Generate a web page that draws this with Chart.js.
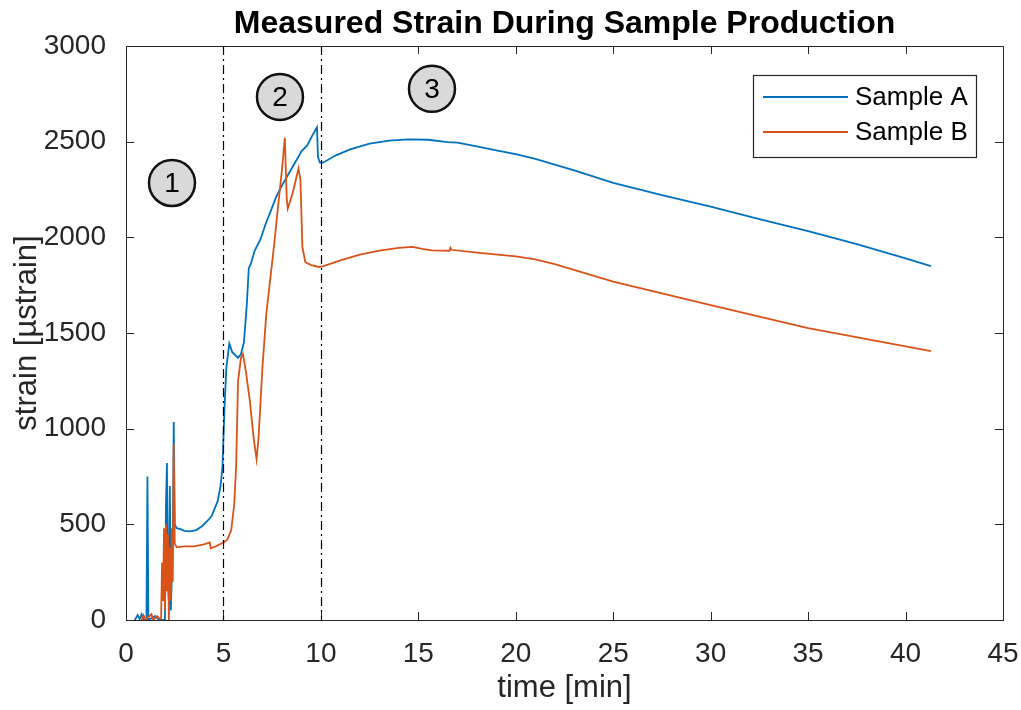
<!DOCTYPE html>
<html>
<head>
<meta charset="utf-8">
<script src="https://cdn.jsdelivr.net/npm/chart.js@4/dist/chart.umd.min.js"></script>
<style>
  html, body { margin: 0; padding: 0; background: #fff; }
  #wrap { width: 1021px; height: 710px; }
</style>
</head>
<body>
<div id="wrap"><canvas id="strainChart" width="1021" height="710"></canvas></div>
<script>
const titleText = "Measured Strain During Sample Production";
const seriesNames = ["Sample A", "Sample B"];
const xTicks = [0, 5, 10, 15, 20, 25, 30, 35, 40, 45];
const yTicks = [0, 500, 1000, 1500, 2000, 2500, 3000];
const phaseLines = [5, 10];
const phaseLabels = ["1", "2", "3"];
const phaseX = [2.36, 7.9, 15.7];
const phaseY = [2284, 2734, 2776];

const timeA = [0.45, 0.6, 0.7, 0.8, 0.9, 1.05, 1.1, 1.15, 1.5, 1.7, 2.0, 2.05, 2.1, 2.15, 2.2, 2.25, 2.3, 2.4, 2.45, 2.5,
  2.6, 2.8, 3.0, 3.3, 3.6, 3.9, 4.2, 4.4, 4.5, 4.7, 4.85, 4.95, 5.05, 5.15, 5.3, 5.45, 5.6, 5.75, 5.9, 6.05,
  6.2, 6.3, 6.4, 6.6, 6.9, 7.2, 7.4, 7.7, 8.0, 8.5, 8.9, 9.0, 9.3, 9.55, 9.8, 9.85, 9.95, 10.1, 10.8, 11.5,
  12.5, 13.5, 14.5, 15.5, 16.5, 17.0, 18.0, 19.0, 20.0, 21.0, 22.0, 23.0, 25.0, 27.5, 30.0, 32.5, 35.0, 37.5, 40.0, 41.3];
const strainA = [0, 25, 5, 30, 0, 0, 750, 0, 20, 0, 0, 600, 820, 200, 100, 700, 50, 400, 1035, 500,
  480, 475, 466, 463, 470, 490, 520, 545, 570, 620, 700, 800, 1100, 1320, 1445, 1400, 1385, 1370, 1390, 1450,
  1650, 1840, 1860, 1930, 1990, 2080, 2130, 2210, 2270, 2360, 2430, 2450, 2480, 2530, 2575, 2420, 2390, 2390, 2430, 2460,
  2490, 2505, 2512, 2510, 2498, 2495, 2475, 2455, 2435, 2410, 2380, 2350, 2285, 2220, 2160, 2095, 2032, 1965, 1890, 1850];

const timeB = [0.8, 0.9, 1.0, 1.3, 1.4, 1.6, 1.8, 1.85, 1.9, 1.95, 2.0, 2.05, 2.1, 2.15, 2.2, 2.25, 2.3, 2.35, 2.4, 2.45,
  2.5, 2.6, 3.0, 3.5, 4.0, 4.3, 4.35, 4.6, 4.9, 5.0, 5.2, 5.4, 5.55, 5.65, 5.75, 5.9, 6.0, 6.15, 6.35, 6.55,
  6.7, 6.8, 7.0, 7.2, 7.4, 7.6, 7.8, 8.0, 8.15, 8.25, 8.3, 8.55, 8.85, 8.95, 9.05, 9.2, 9.5, 9.9, 10.1, 11.0,
  12.0, 13.0, 14.0, 14.7, 15.2, 15.7, 16.6, 16.65, 16.7, 18.0, 20.0, 21.0, 22.0, 25.0, 30.0, 35.0, 40.0, 41.3];
const strainB = [0, 25, 0, 30, 0, 20, 0, 300, 100, 480, 50, 500, 150, 450, 0, 380, 100, 480, 200, 920,
  400, 380, 385, 385, 395, 405, 375, 385, 400, 405, 420, 470, 600, 800, 1250, 1370, 1390, 1300, 1150, 950,
  840, 950, 1320, 1600, 1780, 1960, 2160, 2350, 2520, 2200, 2150, 2230, 2360, 2300, 1950, 1870, 1855, 1845, 1848, 1880,
  1910, 1930, 1945, 1950, 1940, 1932, 1930, 1945, 1935, 1920, 1900, 1885, 1860, 1768, 1646, 1525, 1430, 1405];

const colors = ["#0072BD", "#D95319"];
const axisColor = "#262626";
const fontFamily = "'Liberation Sans', Arial, Helvetica, sans-serif";

function toPoints(xs, ys) {
  return xs.map((x, i) => ({ x: x, y: ys[i] }));
}

const matlabFrame = {
  id: "matlabFrame",
  afterDraw(chart) {
    const ctx = chart.ctx;
    const a = chart.chartArea;
    const xs = chart.scales.x, ys = chart.scales.y;
    ctx.save();

    // box + inward ticks on all sides
    ctx.strokeStyle = axisColor;
    ctx.lineWidth = 1;
    ctx.strokeRect(a.left + 0.5, a.top + 0.5, a.right - a.left, a.bottom - a.top);
    const tl = 8;
    ctx.beginPath();
    xTicks.forEach(t => {
      const px = Math.round(xs.getPixelForValue(t)) + 0.5;
      ctx.moveTo(px, a.bottom); ctx.lineTo(px, a.bottom - tl);
      ctx.moveTo(px, a.top); ctx.lineTo(px, a.top + tl);
    });
    yTicks.forEach(t => {
      const py = Math.round(ys.getPixelForValue(t)) + 0.5;
      ctx.moveTo(a.left, py); ctx.lineTo(a.left + tl, py);
      ctx.moveTo(a.right, py); ctx.lineTo(a.right - tl, py);
    });
    ctx.stroke();

    // dash-dot phase boundaries
    ctx.strokeStyle = "#000";
    ctx.lineWidth = 1.2;
    ctx.setLineDash([9, 4, 2, 4]);
    phaseLines.forEach(t => {
      const px = Math.round(xs.getPixelForValue(t)) + 0.5;
      ctx.beginPath();
      ctx.moveTo(px, a.top); ctx.lineTo(px, a.bottom);
      ctx.stroke();
    });
    ctx.setLineDash([]);

    // circled phase numbers
    phaseLabels.forEach((lab, i) => {
      const cx = xs.getPixelForValue(phaseX[i]);
      const cy = ys.getPixelForValue(phaseY[i]);
      ctx.beginPath();
      ctx.arc(cx, cy, 23, 0, Math.PI * 2);
      ctx.fillStyle = "#d9d9d9";
      ctx.fill();
      ctx.lineWidth = 2.5;
      ctx.strokeStyle = "#111";
      ctx.stroke();
      ctx.fillStyle = "#000";
      ctx.font = "28px " + fontFamily;
      ctx.textAlign = "center";
      ctx.textBaseline = "middle";
      ctx.fillText(lab, cx, cy + 1);
    });

    // legend box
    const lx = 753, ly = 75, lw = 223, lh = 82;
    ctx.fillStyle = "#fff";
    ctx.fillRect(lx, ly, lw, lh);
    ctx.strokeStyle = axisColor;
    ctx.lineWidth = 1.2;
    ctx.strokeRect(lx + 0.5, ly + 0.5, lw, lh);
    chart.data.datasets.forEach((ds, i) => {
      const yy = ly + 22 + i * 35;
      ctx.strokeStyle = ds.borderColor;
      ctx.lineWidth = ds.borderWidth;
      ctx.beginPath();
      ctx.moveTo(lx + 10, yy); ctx.lineTo(lx + 95, yy);
      ctx.stroke();
      ctx.fillStyle = "#000";
      ctx.font = "26px " + fontFamily;
      ctx.textAlign = "left";
      ctx.textBaseline = "middle";
      ctx.fillText(ds.label, lx + 102, yy + 1);
    });

    // title centred on the plot area
    ctx.fillStyle = "#000";
    ctx.font = "bold 32px " + fontFamily;
    ctx.textAlign = "center";
    ctx.textBaseline = "middle";
    ctx.fillText(titleText, (a.left + a.right) / 2, 24);
    ctx.restore();
  }
};

new Chart(document.getElementById("strainChart"), {
  type: "line",
  data: {
    datasets: [
      { label: seriesNames[0], data: toPoints(timeA, strainA), borderColor: colors[0], borderWidth: 1.8, pointRadius: 0, tension: 0, order: 1 },
      { label: seriesNames[1], data: toPoints(timeB, strainB), borderColor: colors[1], borderWidth: 1.8, pointRadius: 0, tension: 0, order: 0 }
    ]
  },
  options: {
    responsive: false,
    animation: false,
    layout: { padding: { top: 46, right: 18, left: 0, bottom: 0 } },
    plugins: { legend: { display: false }, title: { display: false }, tooltip: { enabled: false } },
    scales: {
      x: {
        type: "linear", min: 0, max: 45,
        afterBuildTicks: s => { s.ticks = xTicks.map(v => ({ value: v })); },
        afterFit: s => { s.height = 90; s.paddingLeft = 0; s.paddingRight = 0; },
        grid: { display: false },
        border: { display: true, color: axisColor, width: 1 },
        ticks: { color: axisColor, padding: 9, autoSkip: false, maxRotation: 0, font: { family: fontFamily, size: 28 } },
        title: { display: true, text: "time [min]", color: axisColor, padding: { top: 0, bottom: 3 }, font: { family: fontFamily, size: 31 } }
      },
      y: {
        type: "linear", min: 0, max: 3000,
        afterBuildTicks: s => { s.ticks = yTicks.map(v => ({ value: v })); },
        afterFit: s => { s.width = 126; s.paddingTop = 0; s.paddingBottom = 0; },
        grid: { display: false },
        border: { display: true, color: axisColor, width: 1 },
        ticks: { color: axisColor, padding: 12, callback: v => String(v), font: { family: fontFamily, size: 28 } },
        title: { display: true, text: "strain [µstrain]", color: axisColor, padding: { top: 9, bottom: 0 }, font: { family: fontFamily, size: 31 } }
      }
    }
  },
  plugins: [matlabFrame]
});
</script>
</body>
</html>
